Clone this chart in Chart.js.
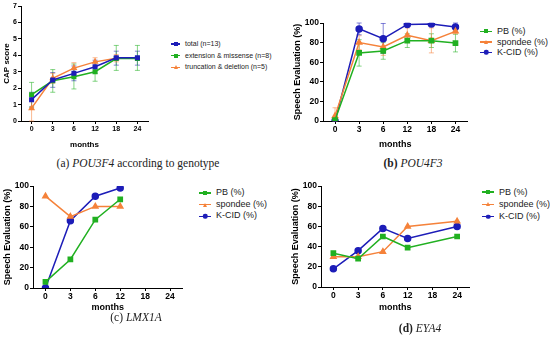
<!DOCTYPE html>
<html>
<head>
<meta charset="utf-8">
<script src="https://cdn.jsdelivr.net/npm/chart.js@4.4.1/dist/chart.umd.min.js"></script>
<style>
  body { margin: 0; width: 550px; height: 337px; background: #fff; position: relative; overflow: hidden; font-family: "Liberation Sans", Arial, sans-serif; }
  canvas { position: absolute; }
  .legend { position: absolute; color: #222; }
  .legend .item { display: flex; align-items: center; white-space: nowrap; }
  .sym { position: relative; display: inline-block; height: 1.5px; margin-right: 5px; }
  .sym i { position: absolute; left: 50%; top: 50%; transform: translate(-50%, -50%); }
  .sym i.sq { width: 4px; height: 4px; }
  .sym i.ci { width: 4.5px; height: 4.5px; border-radius: 50%; }
  .sym i.tr { width: 0; height: 0; border-left: 2.5px solid transparent; border-right: 2.5px solid transparent; border-bottom: 4px solid; background: none !important; }
  .cap { position: absolute; font-family: "Liberation Serif", "DejaVu Serif", serif; font-size: 11.5px; color: #222; transform: translateX(-50%); white-space: nowrap; }
</style>
</head>
<body>
<canvas id="ca" width="152" height="150" style="left:0px;top:0px"></canvas>
<canvas id="cb" width="182" height="140" style="left:290px;top:10px"></canvas>
<canvas id="cc" width="187" height="137" style="left:0px;top:176px"></canvas>
<canvas id="cd" width="186" height="137" style="left:288px;top:176px"></canvas>

<div class="legend" id="la" style="left:171px;top:38px;font-size:7px;line-height:11.7px"></div>
<div class="legend" id="lb" style="left:480px;top:26px;font-size:9px;line-height:10.5px"></div>
<div class="legend" id="lc" style="left:199px;top:187px;font-size:9px;line-height:11.7px"></div>
<div class="legend" id="ld" style="left:482px;top:186px;font-size:9px;line-height:12.2px"></div>

<div class="cap" style="left:138px;top:157px">(a) <i>POU3F4</i> according to genotype</div>
<div class="cap" style="left:413px;top:157px"><b>(b)</b> <i>POU4F3</i></div>
<div class="cap" style="left:136px;top:311px">(c) <i>LMX1A</i></div>
<div class="cap" style="left:420px;top:322px"><b>(d)</b> <i>EYA4</i></div>

<script>
// months on the x axis
var months = ['0', '3', '6', '12', '18', '24'];

// (a) POU3F4 CAP score
var aTotal = [1.3, 2.5, 2.9, 3.3, 3.85, 3.85];
var aTotalLow = [0.85, 2.05, 2.45, 2.9, 3.4, 3.4];
var aTotalHigh = [1.75, 2.95, 3.35, 3.7, 4.25, 4.25];
var aExt = [1.6, 2.45, 2.7, 3.0, 3.8, 3.8];
var aExtLow = [0.85, 1.75, 1.95, 2.42, 3.08, 3.08];
var aExtHigh = [2.35, 3.13, 3.47, 3.55, 4.6, 4.6];
var aTrunc = [0.78, 2.6, 3.22, 3.6, 3.82, null];
var aTruncLow = [0, 2.3, 2.9, 3.35, 3.6, null];
var aTruncHigh = [1.55, 2.9, 3.55, 3.85, 4.05, null];

// (b) POU4F3 speech evaluation
var bPB = [1, 69.5, 71.5, 82, 82, 79.5];
var bPBLow = [0, 56, 63, 75, 75, 70.5];
var bPBHigh = [3, 83, 80, 89, 89, 88.5];
var bSpondee = [5, 80, 75.5, 87.5, 82, 91.5];
var bSpondeeLow = [0, 73, 67, 80, 69.5, 89];
var bSpondeeHigh = [13.5, 87, 84, 95, 95, 94];
var bKCID = [0, 94, 84, 98.5, 99, 96];
var bKCIDLow = [0, 88, 69, 97, 98, 92];
var bKCIDHigh = [0, 100, 99.5, 100, 100, 100];

// (c) LMX1A speech evaluation
var cPB = [6, 28, 67, 87, null, null];
var cSpondee = [90, 70, 80, 80, null, null];
var cKCID = [0, 66, 90, 98, null, null];

// (d) EYA4 speech evaluation
var dPB = [33.5, 28, 50, 39, null, 50];
var dSpondee = [30, 30, 35, 60, null, 65];
var dKCID = [18, 36, 58, 48, null, 60];

var GREEN = '#21b021';
var ORANGE = '#f5823a';
var BLUE = '#1d1db8';

var errorBars = {
  id: 'errorBars',
  beforeDatasetsDraw: function (chart) {
    var ctx = chart.ctx;
    var ys = chart.scales.y;
    chart.data.datasets.forEach(function (ds, i) {
      if (!ds.errLow) return;
      var meta = chart.getDatasetMeta(i);
      meta.data.forEach(function (pt, j) {
        var lo = ds.errLow[j], hi = ds.errHigh[j];
        if (lo == null || hi == null) return;
        var x = pt.x;
        var y1 = ys.getPixelForValue(lo), y2 = ys.getPixelForValue(hi);
        ctx.save();
        ctx.strokeStyle = ds.borderColor;
        ctx.globalAlpha = 0.55;
        ctx.lineWidth = 1;
        ctx.beginPath();
        ctx.moveTo(x, y1); ctx.lineTo(x, y2);
        ctx.moveTo(x - 2.5, y1); ctx.lineTo(x + 2.5, y1);
        ctx.moveTo(x - 2.5, y2); ctx.lineTo(x + 2.5, y2);
        ctx.stroke();
        ctx.restore();
      });
    });
  }
};

function series(label, data, color, style, low, high, r) {
  return {
    label: label, data: data, borderColor: color, backgroundColor: color,
    pointStyle: style, pointRadius: r, pointHoverRadius: r, borderWidth: 1.5,
    tension: 0, spanGaps: true, errLow: low, errHigh: high
  };
}

function makeChart(id, datasets, opt) {
  new Chart(document.getElementById(id), {
    type: 'line',
    data: { labels: months, datasets: datasets },
    plugins: [errorBars],
    options: {
      responsive: false,
      animation: false,
      events: [],
      layout: { padding: opt.padding },
      plugins: { legend: { display: false }, tooltip: { enabled: false } },
      scales: {
        x: {
          type: 'category', offset: true,
          grid: { display: true, drawOnChartArea: false, tickLength: 3, color: '#000' },
          border: { display: true, color: '#000', width: 1 },
          ticks: { color: '#000', padding: 1, font: { family: 'Liberation Sans', size: opt.tickSize, weight: 'bold' } },
          title: { display: true, text: 'months', color: '#000', padding: 0, font: { family: 'Liberation Sans', size: opt.titleSize, weight: 'bold' } },
          afterFit: function (s) { s.height = opt.xh; }
        },
        y: {
          min: 0, max: opt.max,
          grid: { display: true, drawOnChartArea: false, tickLength: 3, color: '#000' },
          border: { display: true, color: '#000', width: 1 },
          ticks: { stepSize: opt.step, color: '#000', padding: 1, font: { family: 'Liberation Sans', size: opt.tickSize, weight: 'bold' } },
          title: { display: true, text: opt.ytitle, color: '#000', padding: 0, font: { family: 'Liberation Sans', size: opt.titleSize, weight: 'bold' } },
          afterFit: function (s) { s.width = opt.yw; }
        }
      }
    }
  });
}

makeChart('ca', [
  series('total (n=13)', aTotal, BLUE, 'rect', aTotalLow, aTotalHigh, 2.5),
  series('extension & missense (n=8)', aExt, GREEN, 'rect', aExtLow, aExtHigh, 2.5),
  series('truncation & deletion (n=5)', aTrunc, ORANGE, 'triangle', aTruncLow, aTruncHigh, 2.5)
], { padding: { top: 6, right: 2, left: 2 }, xh: 29, yw: 19, max: 7, step: 1, tickSize: 7, titleSize: 8, ytitle: 'CAP score' });

makeChart('cb', [
  series('PB (%)', bPB, GREEN, 'rect', bPBLow, bPBHigh, 3),
  series('spondee (%)', bSpondee, ORANGE, 'triangle', bSpondeeLow, bSpondeeHigh, 3),
  series('K-CID (%)', bKCID, BLUE, 'circle', bKCIDLow, bKCIDHigh, 3)
], { padding: { top: 13, right: 2, left: 2 }, xh: 29, yw: 31, max: 100, step: 10, tickSize: 8.5, titleSize: 9, ytitle: 'Speech Evaluation (%)' });

makeChart('cc', [
  series('PB (%)', cPB, GREEN, 'rect', null, null, 3),
  series('spondee (%)', cSpondee, ORANGE, 'triangle', null, null, 3),
  series('K-CID (%)', cKCID, BLUE, 'circle', null, null, 3)
], { padding: { top: 10, right: 2, left: 2 }, xh: 25, yw: 31, max: 100, step: 10, tickSize: 8.5, titleSize: 9, ytitle: 'Speech Evaluation (%)' });

makeChart('cd', [
  series('PB (%)', dPB, GREEN, 'rect', null, null, 3),
  series('spondee (%)', dSpondee, ORANGE, 'triangle', null, null, 3),
  series('K-CID (%)', dKCID, BLUE, 'circle', null, null, 3)
], { padding: { top: 10, right: 2, left: 2 }, xh: 26, yw: 31, max: 100, step: 10, tickSize: 8.5, titleSize: 9, ytitle: 'Speech Evaluation (%)' });

// html legends
function legend(id, labels, colors, shapes, w) {
  var el = document.getElementById(id);
  labels.forEach(function (t, i) {
    var item = document.createElement('div');
    item.className = 'item';
    var sym = document.createElement('span');
    sym.className = 'sym';
    sym.style.width = w + 'px';
    sym.style.background = colors[i];
    var mk = document.createElement('i');
    mk.className = shapes[i];
    mk.style.background = colors[i];
    mk.style.color = colors[i];
    sym.appendChild(mk);
    item.appendChild(sym);
    item.appendChild(document.createTextNode(t));
    el.appendChild(item);
  });
}
legend('la', ['total (n=13)', 'extension & missense (n=8)', 'truncation & deletion (n=5)'], [BLUE, GREEN, ORANGE], ['sq', 'sq', 'tr'], 9);
legend('lb', ['PB (%)', 'spondee (%)', 'K-CID (%)'], [GREEN, ORANGE, BLUE], ['sq', 'tr', 'ci'], 12);
legend('lc', ['PB (%)', 'spondee (%)', 'K-CID (%)'], [GREEN, ORANGE, BLUE], ['sq', 'tr', 'ci'], 12);
legend('ld', ['PB (%)', 'spondee (%)', 'K-CID (%)'], [GREEN, ORANGE, BLUE], ['sq', 'tr', 'ci'], 12);
</script>
</body>
</html>
